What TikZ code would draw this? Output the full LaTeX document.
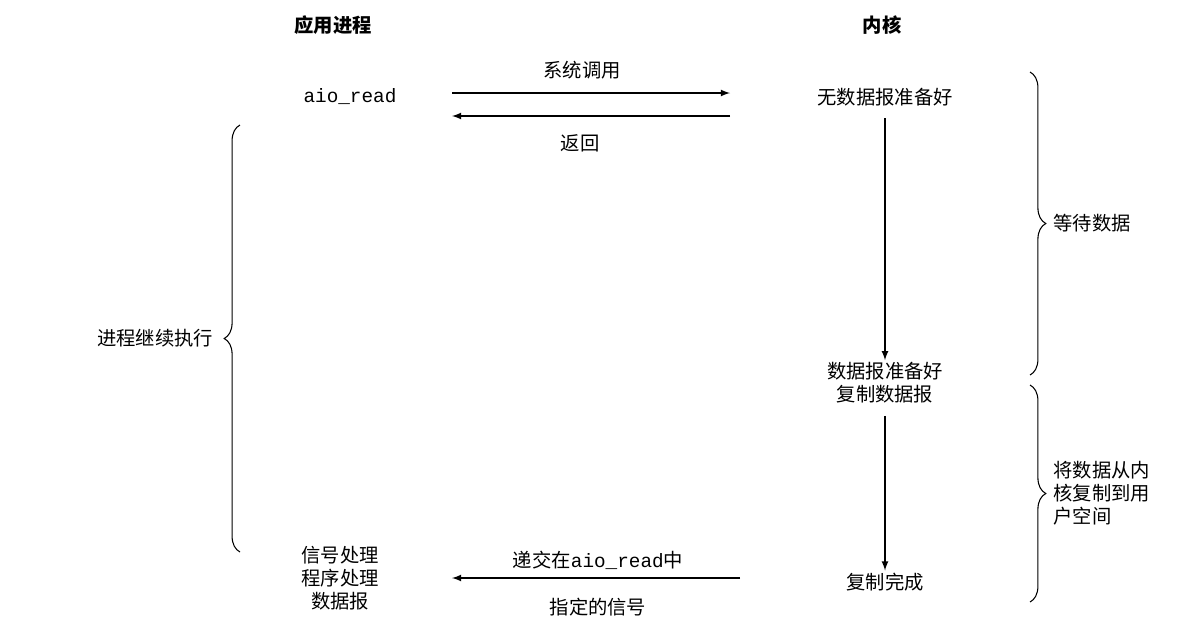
\documentclass[tikz,border=0pt]{standalone}
\usepackage{fontspec}
\setmainfont{Noto Sans CJK SC}
\setmonofont{Liberation Mono}
\usetikzlibrary{decorations.pathreplacing}
\begin{document}
\begin{tikzpicture}[x=0.02cm,y=-0.02cm,>=latex,line width=0.8pt]
    \tikzstyle{lbl}=[font=\fontsize{11}{13}\selectfont,inner sep=1pt]
    \tikzstyle{head}=[lbl,font=\fontsize{11}{13}\selectfont\bfseries]
    \tikzstyle{stack}=[lbl,align=center]
    \tikzstyle{brc}=[decorate,decoration={brace,amplitude=9pt},line width=0.6pt]
    \useasboundingbox (0,0) rectangle (1200,643);

    % Column heads
    \node[head] (app) at (333,25) {应用进程};
    \node[head] (kern) at (882,25) {内核};

    % Process side
    \node[lbl,font=\ttfamily\fontsize{11}{13}\selectfont] (aio) at (350,97) {aio\_read};
    \node[stack] (sig) at (340,578) {信号处理\\程序处理\\数据报};

    % Kernel side
    \node[lbl] (nodata) at (885,97) {无数据报准备好};
    \node[stack] (ready) at (885,383) {数据报准备好\\复制数据报};
    \node[lbl] (done) at (885,582) {复制完成};

    % System call and return
    \coordinate (c1) at (452,93); \coordinate (c2) at (730,93);
    \coordinate (r1) at (730,116); \coordinate (r2) at (452,116);
    \draw[->] (c1) -- (c2);
    \draw[->] (r1) -- (r2);
    \node[lbl] (call) at (582,70) {系统调用};
    \node[lbl] (ret) at (580,143) {返回};

    % Kernel progress
    \draw[->] (nodata.south) ++(0,10) -- (ready.north);
    \draw[->] (ready.south) ++(0,10) -- (done.north);

    % Signal delivery
    \coordinate (s1) at (740,578); \coordinate (s2) at (452,578);
    \draw[->] (s1) -- (s2);
    \node[lbl] (deliv) at (598,560) {递交在\texttt{aio\_read}中};
    \node[lbl] (spec) at (598,607) {指定的信号};

    % Braces
    \draw[brc] (240,552) -- (240,125) node[midway,left=14pt,lbl] (cont) {进程继续执行};
    \draw[brc] (1030,72) -- (1030,375) node[midway,right=12pt,lbl] (wait) {等待数据};
    \draw[brc] (1030,385) -- (1030,602) node[midway,right=12pt,stack,align=left] (copy) {将数据从内\\核复制到用\\户空间};
\end{tikzpicture}
\end{document}
